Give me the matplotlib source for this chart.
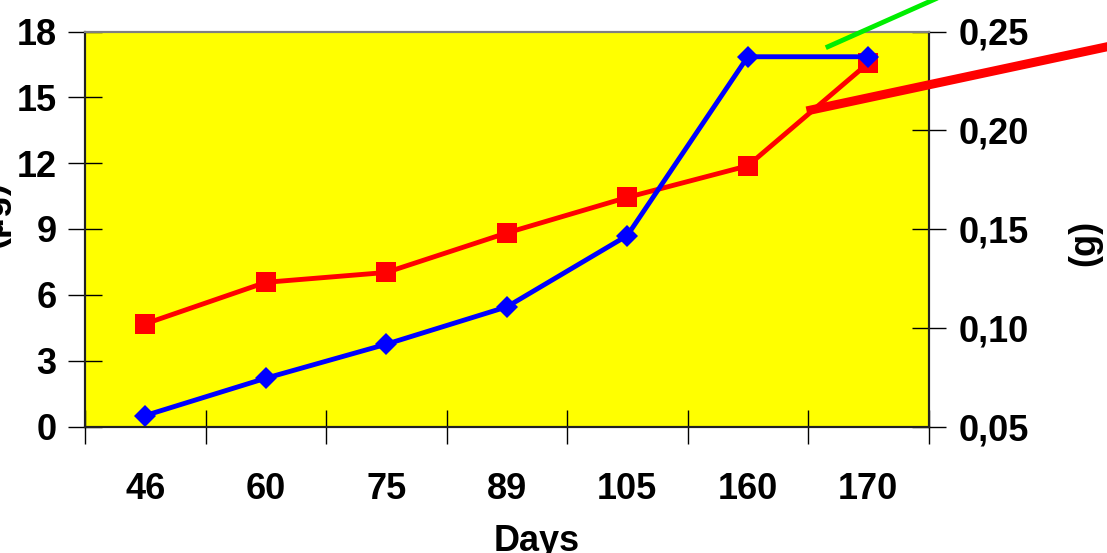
import numpy as np, matplotlib
matplotlib.use("Agg"); import matplotlib.pyplot as plt
from matplotlib.lines import Line2D
from matplotlib.ticker import FixedLocator, FuncFormatter

plt.rcParams["font.family"] = ["Liberation Sans", "DejaVu Sans"]
plt.rcParams["font.weight"] = "bold"

days = ["46", "60", "75", "89", "105", "160", "170"]
content_ug = [0.5, 2.2, 3.75, 5.45, 8.7, 16.85, 16.85]      # blue, left axis
mass_g = [0.102, 0.123, 0.128, 0.148, 0.166, 0.182, 0.234]  # red, right axis
left_ticks = [0, 3, 6, 9, 12, 15, 18]
right_ticks = [0.05, 0.10, 0.15, 0.20, 0.25]

W, H = 1107, 553
FS = 26
fig = plt.figure(figsize=(W/100, H/100), dpi=100)
ax = fig.add_axes([85/W, 1-426.5/H, (928.5-85)/W, 395/H])
ax2 = ax.twinx()
ax2.patch.set_visible(True); ax2.set_facecolor("#FFFF00")
ax.set_zorder(ax2.get_zorder()+1); ax.patch.set_visible(False)

x = np.arange(len(days))
ax2.plot(x, mass_g, color="#FF0000", lw=3.5, marker="s", ms=14, mew=0, clip_on=False)
ax.plot(x, content_ug, color="#0000FF", lw=3.5, marker="D", ms=11.5, mew=0, clip_on=False)

ax.set_xlim(-0.5, len(days)-0.5)
ax.set_ylim(0, 18); ax2.set_ylim(0.05, 0.25)
ax.yaxis.set_major_locator(FixedLocator(left_ticks))
ax2.yaxis.set_major_locator(FixedLocator(right_ticks))
ax2.yaxis.set_major_formatter(FuncFormatter(lambda v, p: f"{v:.2f}".replace(".", ",")))

# category boundaries get the tick marks, centres carry the labels
ax.set_xticks(np.arange(len(days)+1)-0.5); ax.set_xticklabels([])
ax.set_xticks(x, minor=True); ax.set_xticklabels(days, minor=True)
ax.tick_params(axis="x", which="major", direction="inout", length=25, width=1, color="black")
ax.tick_params(axis="x", which="minor", length=0, pad=33, labelsize=FS)
ax.tick_params(axis="y", direction="inout", length=25, width=1, pad=8, labelsize=FS)
ax2.tick_params(axis="y", direction="inout", length=25, width=1, pad=9.5, labelsize=FS)
for a in (ax, ax2):
    for lab in a.get_xticklabels(minor=True)+a.get_yticklabels():
        lab.set_fontweight("bold")
    for s in a.spines.values():
        s.set_color("#222222"); s.set_linewidth(1.5)
    a.spines["top"].set_color("#808080")

fig.text(10/W, 1-215/H, "(µg)", rotation=90, ha="right", va="center", fontsize=FS, fontweight="bold")
fig.text(1085/W, 1-243/H, "(g)", rotation=90, ha="center", va="center", fontsize=FS, fontweight="bold")
fig.text(537/W, 1-524/H, "Days", ha="center", va="top", fontsize=FS, fontweight="bold")

# leader lines running off the chart
def px(xs, ys):
    return [v/W for v in xs], [1-v/H for v in ys]
gx, gy = px([828, 960], [46.7, -12])
fig.add_artist(Line2D(gx, gy, color="#00EE00", lw=3.5, transform=fig.transFigure, zorder=5))
rx, ry = px([811, 1120], [110, 44])
fig.add_artist(Line2D(rx, ry, color="#FF0000", lw=6.5, transform=fig.transFigure, zorder=5))

fig.savefig("out.png", dpi=100)
